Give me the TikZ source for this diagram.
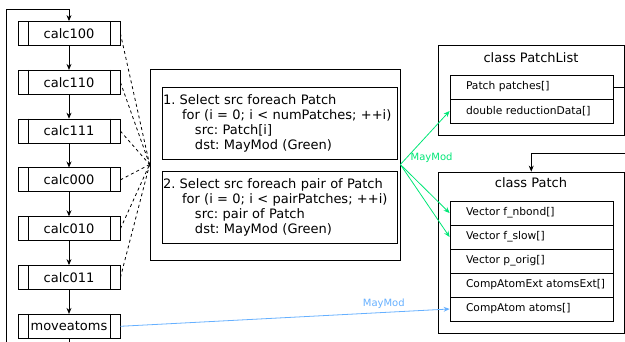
\documentclass[tikz,border=0pt]{standalone}
\usepackage{fontspec}
\setmainfont{DejaVu Sans}
\usetikzlibrary{positioning,arrows.meta}
\definecolor{maygreen}{RGB}{0,230,118}
\definecolor{mayblue}{RGB}{102,176,255}
\frenchspacing

\begin{document}
\begin{tikzpicture}[x=1pt, y=-1pt, node distance=24pt, line width=0.8pt, >={Stealth[length=6pt,width=5pt]},
  func/.style = {draw, minimum width=102pt, minimum height=24pt, inner sep=0pt, font=\fontsize{13}{15}\selectfont},
  sel/.style = {draw, text width=233pt, inner xsep=1pt, align=left, minimum height=72pt, font=\fontsize{13}{15}\selectfont},
  cls/.style = {draw, minimum width=186.5pt},
  title/.style = {font=\fontsize{13}{15}\selectfont},
  field/.style = {draw, minimum width=163pt, minimum height=24pt},
  ftext/.style = {anchor=west, xshift=16pt, inner sep=0pt, font=\fontsize{10.7}{12}\selectfont},
  maymod/.style = {font=\fontsize{10}{12}\selectfont}]
  \useasboundingbox (0,0) rectangle (625,342);

  % kernels
  \node[func] (c100) at (69,33.5) {calc100};
  \node[func, below=of c100] (c110) {calc110};
  \node[func, below=of c110] (c111) {calc111};
  \node[func, below=of c111] (c000) {calc000};
  \node[func, below=of c000] (c010) {calc010};
  \node[func, below=of c010] (c011) {calc011};
  \node[func, below=of c011] (mv) {moveatoms};
  \foreach \n in {c100,c110,c111,c000,c010,c011,mv}
    \draw ([xshift=11pt]\n.north west) -- ([xshift=11pt]\n.south west)
          ([xshift=-10pt]\n.north east) -- ([xshift=-10pt]\n.south east);
  \foreach \a/\b in {c100/c110,c110/c111,c111/c000,c000/c010,c010/c011,c011/mv}
    \draw[->] (\a) -- (\b);

  % loop back
  \coordinate (lb) at (6,350);
  \coordinate (lt) at (6,9);
  \draw[->] (mv.south) -- (mv.south |- lb) -- (lb) -- (lt) -| (c100.north);

  % selection
  \node[draw, minimum width=250pt, minimum height=191pt] (box) at (275,164.5) {};
  \node[sel] (s1) at (279.5,123) {1. Select src foreach Patch\\
    \hspace*{19pt}for (i = 0; i < numPatches; ++i)\\
    \hspace*{32pt}src: Patch[i]\\
    \hspace*{32pt}dst: MayMod (Green)};
  \node[sel] (s2) at (279.5,207.5) {2. Select src foreach pair of Patch\\
    \hspace*{19pt}for (i = 0; i < pairPatches; ++i)\\
    \hspace*{32pt}src: pair of Patch\\
    \hspace*{32pt}dst: MayMod (Green)};
  \foreach \n in {c100,c110,c111,c000,c010,c011}
    \draw[dashed] (\n.east) -- (box.west);

  % classes
  \node[cls, minimum height=90pt] (plist) at (531.25,90) {};
  \node[title] (ttl1) at (531,58) {class PatchList};
  \foreach \txt [count=\i] in {Patch patches[], double reductionData[]} {
    \node[field] (pl\i) at (531.5,63+24*\i) {};
    \node[ftext] (plt\i) at (pl\i.west) {\txt};
  }
  \node[cls, minimum height=161pt] (patch) at (531.25,252.5) {};
  \node[title] (ttl2) at (531,183) {class Patch};
  \foreach \txt [count=\i] in {Vector f\_nbond[], Vector f\_slow[], Vector p\_orig[],
      CompAtomExt atomsExt[], CompAtom atoms[]} {
    \node[field] (pa\i) at (531.5,189+24*\i) {};
    \node[ftext] (pat\i) at (pa\i.west) {\txt};
  }
  \coordinate (pr) at (632,87);
  \coordinate (pin) at (632,153);
  \draw (pl1.east) -- (pr);
  \draw[->] (pin) -| (patch.north);

  % MayMod
  \draw[->, maygreen] (box.east) -- (pl2.west);
  \draw[->, maygreen] (box.east) -- (pa1.west);
  \draw[->, maygreen] (box.east) -- (pa2.west);
  \node[maymod, text=maygreen, anchor=west] (gl) at (407,158) {MayMod};
  \draw[->, mayblue] (mv.east) -- node[maymod, above, pos=0.8] (bl) {MayMod} (pa5.west);
\end{tikzpicture}
\end{document}
